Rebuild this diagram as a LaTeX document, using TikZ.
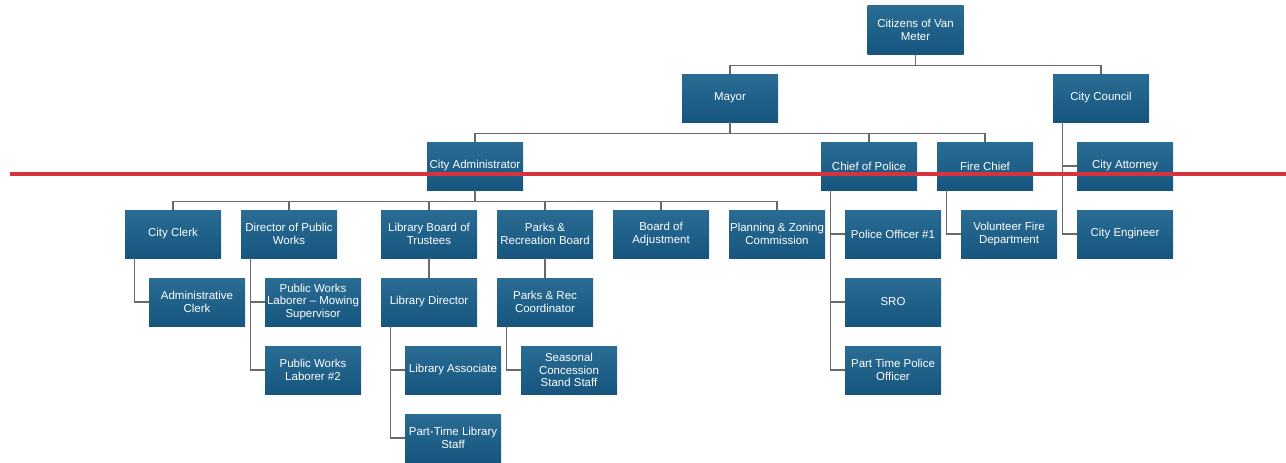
\documentclass[tikz,border=0pt]{standalone}
\usepackage{fontspec}
\setmainfont{Liberation Sans}
\definecolor{boxtop}{RGB}{42,108,148}
\definecolor{boxbot}{RGB}{22,86,126}
\definecolor{linkgray}{RGB}{105,105,105}
\definecolor{markred}{RGB}{214,52,60}
\begin{document}
\begin{tikzpicture}[
  x=0.3mm, y=-0.3mm,
  post/.style={rectangle, top color=boxtop, bottom color=boxbot,
               minimum width=28.8mm, minimum height=14.4mm, align=center,
               inner xsep=0pt, inner ysep=1pt, text=white,
               font=\fontsize{9.8}{11}\selectfont},
  link/.style={draw=linkgray, line width=1.1pt},
]
\useasboundingbox (0,0) rectangle (1286,463);

% top levels
\node[post] (citizens) at (915.5,30) {Citizens of Van\\Meter};
\node[post] (mayor) at (730,98) {Mayor};
\node[post] (council) at (1101,98) {City Council};

\node[post] (admin) at (475,166) {City Administrator};
\node[post] (police) at (869,166) {Chief of Police};
\node[post] (fire) at (985,166) {Fire Chief};
\node[post] (attorney) at (1125,166) {City Attorney};

% departments under the administrator
\node[post] (clerk) at (173,234) {City Clerk};
\node[post] (dpw) at (289,234) {Director of Public\\Works};
\node[post] (libboard) at (429,234) {Library Board of\\Trustees};
\node[post] (parksboard) at (545,234) {Parks \&\\Recreation Board};
\node[post] (adjust) at (661,234) {Board of\\Adjustment};
\node[post] (planning) at (777,234) {Planning \& Zoning\\Commission};
\node[post] (officer) at (893,234) {Police Officer \#1};
\node[post] (volunteer) at (1009,234) {Volunteer Fire\\Department};
\node[post] (engineer) at (1125,234) {City Engineer};

% staff
\node[post] (aclerk) at (197,302) {Administrative\\Clerk};
\node[post] (mowing) at (313,302) {Public Works\\Laborer -- Mowing\\Supervisor};
\node[post] (libdir) at (429,302) {Library Director};
\node[post] (coord) at (545,302) {Parks \& Rec\\Coordinator};
\node[post] (sro) at (893,302) {SRO};

\node[post] (laborer) at (313,370) {Public Works\\Laborer \#2};
\node[post] (libassoc) at (453,370) {Library Associate};
\node[post] (seasonal) at (569,370) {Seasonal\\Concession\\Stand Staff};
\node[post] (parttime) at (893,370) {Part Time Police\\Officer};

\node[post] (libstaff) at (453,438) {Part-Time Library\\Staff};

% tree lines from the top
\draw[link] (citizens.south) -- ++(0,11) -| (mayor.north);
\draw[link] (citizens.south) -- ++(0,11) -| (council.north);
\draw[link] (mayor.south) -- ++(0,11) -| (admin.north);
\draw[link] (mayor.south) -- ++(0,11) -| (police.north);
\draw[link] (mayor.south) -- ++(0,11) -| (fire.north);

\draw[link] (admin.south) -- ++(0,11) -| (clerk.north);
\draw[link] (admin.south) -- ++(0,11) -| (dpw.north);
\draw[link] (admin.south) -- ++(0,11) -| (libboard.north);
\draw[link] (admin.south) -- ++(0,11) -| (parksboard.north);
\draw[link] (admin.south) -- ++(0,11) -| (adjust.north);
\draw[link] (admin.south) -- ++(0,11) -| (planning.north);

\draw[link] (libboard) -- (libdir);
\draw[link] (parksboard) -- (coord);

% side branches
\draw[link] ([xshift=3mm]council.south west) |- (attorney.west);
\draw[link] ([xshift=3mm]council.south west) |- (engineer.west);
\draw[link] ([xshift=3mm]clerk.south west) |- (aclerk.west);
\draw[link] ([xshift=3mm]dpw.south west) |- (mowing.west);
\draw[link] ([xshift=3mm]dpw.south west) |- (laborer.west);
\draw[link] ([xshift=3mm]libdir.south west) |- (libassoc.west);
\draw[link] ([xshift=3mm]libdir.south west) |- (libstaff.west);
\draw[link] ([xshift=3mm]coord.south west) |- (seasonal.west);
\draw[link] ([xshift=3mm]police.south west) |- (officer.west);
\draw[link] ([xshift=3mm]police.south west) |- (sro.west);
\draw[link] ([xshift=3mm]police.south west) |- (parttime.west);
\draw[link] ([xshift=3mm]fire.south west) |- (volunteer.west);

% red mark across the chart
\coordinate (markL) at (10,174);
\coordinate (markR) at (1286,174);
\draw[markred, line width=3pt] (markL) -- (markR);

\end{tikzpicture}
\end{document}
